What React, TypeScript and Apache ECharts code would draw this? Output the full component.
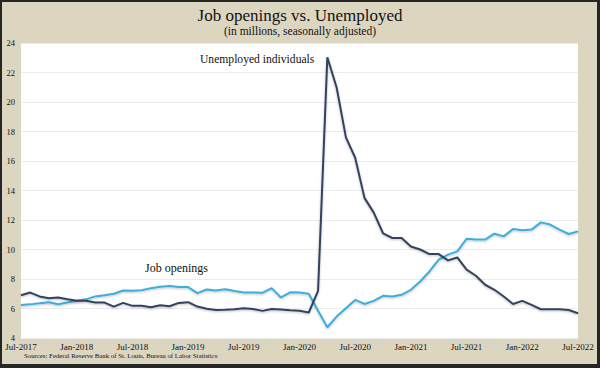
import React, { useEffect, useRef } from "react";
import * as echarts from "echarts";

const MONTHS = ["Jan", "Feb", "Mar", "Apr", "May", "Jun", "Jul", "Aug", "Sep", "Oct", "Nov", "Dec"];
const START_YEAR = 2017;
const START_MONTH = 6; // July
const N_POINTS = 61;
const CATEGORIES: string[] = [];
for (let i = 0; i < N_POINTS; i++) {
  const m = (START_MONTH + i) % 12;
  const y = START_YEAR + Math.floor((START_MONTH + i) / 12);
  CATEGORIES.push(`${MONTHS[m]}-${y}`);
}

const UNEMPLOYED = [
  6.9, 7.08, 6.82, 6.7, 6.75, 6.63, 6.52, 6.52, 6.4, 6.4,
  6.13, 6.38, 6.18, 6.18, 6.09, 6.22, 6.15, 6.38, 6.43, 6.13,
  5.98, 5.9, 5.92, 5.95, 6.02, 5.97, 5.84, 5.97, 5.93, 5.88,
  5.84, 5.73, 7.2, 23.03, 20.98, 17.6, 16.22, 13.5, 12.5, 11.1,
  10.78, 10.78, 10.2, 10.0, 9.69, 9.69, 9.26, 9.46, 8.63, 8.22,
  7.61, 7.27, 6.81, 6.31, 6.52, 6.24, 5.95, 5.95, 5.95, 5.9,
  5.68,
];

const JOB_OPENINGS = [
  6.24, 6.28, 6.35, 6.43, 6.29, 6.4, 6.53, 6.62, 6.82, 6.9,
  7.0, 7.22, 7.2, 7.24, 7.38, 7.47, 7.53, 7.45, 7.45, 7.04,
  7.29, 7.22, 7.31, 7.18, 7.08, 7.08, 7.06, 7.38, 6.75, 7.1,
  7.08, 7.0, 5.85, 4.73, 5.45, 6.02, 6.58, 6.31, 6.52, 6.86,
  6.81, 6.93, 7.27, 7.83, 8.51, 9.31, 9.65, 9.87, 10.73, 10.67,
  10.67, 11.07, 10.89, 11.39, 11.3, 11.35, 11.84, 11.69, 11.35, 11.05,
  11.23,
];

const Y_MIN = 4;
const Y_MAX = 24;
const Y_STEP = 2;

const TITLE = "Job openings vs. Unemployed";
const SUBTITLE = "(in millions, seasonally adjusted)";
const SOURCE = "Sources: Federal Reserve Bank of St. Louis, Bureau of Labor Statistics";
const LABEL_UNEMPLOYED = "Unemployed individuals";
const LABEL_JOBS = "Job openings";

const SERIF = "'Liberation Serif', 'DejaVu Serif', serif";
const BG = "#dcd6c1";
const FRAME = "#262626";
const DARK = "#34435e";
const LIGHT = "#3daedb";

export default function App() {
  const ref = useRef<HTMLDivElement>(null);

  useEffect(() => {
    if (!ref.current) return;
    const chart = echarts.init(ref.current, undefined, { renderer: "svg" });
    chart.setOption({
      animation: false,
      backgroundColor: BG,
      title: {
        text: TITLE,
        subtext: SUBTITLE,
        left: "center",
        top: 2,
        itemGap: 1,
        textStyle: { fontFamily: SERIF, fontSize: 17, fontWeight: "normal", color: "#111" },
        subtextStyle: { fontFamily: SERIF, fontSize: 11.5, color: "#111" },
      },
      grid: {
        left: 21,
        right: 22,
        top: 43,
        bottom: 30,
        show: true,
        backgroundColor: "#ffffff",
        borderWidth: 0,
      },
      xAxis: {
        type: "category",
        data: CATEGORIES,
        boundaryGap: false,
        axisLine: { show: false },
        axisTick: { show: false },
        splitLine: { show: false },
        axisLabel: {
          interval: 5,
          hideOverlap: false,
          showMinLabel: true,
          showMaxLabel: true,
          margin: 4,
          fontFamily: SERIF,
          fontSize: 9,
          fontWeight: "normal",
          color: "#111",
        },
      },
      yAxis: {
        type: "value",
        min: Y_MIN,
        max: Y_MAX,
        interval: Y_STEP,
        axisLine: { show: false },
        axisTick: { show: false },
        splitLine: { show: true, lineStyle: { color: "#ececec", width: 1 } },
        axisLabel: {
          margin: 6,
          fontFamily: SERIF,
          fontSize: 8.5,
          fontWeight: "normal",
          color: "#111",
        },
      },
      series: [
        {
          name: "Job openings",
          type: "line",
          data: JOB_OPENINGS,
          symbol: "none",
          smooth: false,
          lineStyle: {
            color: LIGHT,
            width: 2,
            shadowColor: "rgba(0,0,0,0.25)",
            shadowBlur: 2,
            shadowOffsetY: 1,
          },
          z: 3,
        },
        {
          name: "Unemployed individuals",
          type: "line",
          data: UNEMPLOYED,
          symbol: "none",
          smooth: false,
          lineStyle: {
            color: DARK,
            width: 2,
            shadowColor: "rgba(0,0,0,0.25)",
            shadowBlur: 2,
            shadowOffsetY: 1,
          },
          z: 4,
        },
      ],
      graphic: [
        {
          type: "text",
          left: 200,
          top: 53,
          style: { text: LABEL_UNEMPLOYED, fontFamily: SERIF, fontSize: 11.6, fill: "#111" },
        },
        {
          type: "text",
          left: 145,
          top: 262,
          style: { text: LABEL_JOBS, fontFamily: SERIF, fontSize: 12, fill: "#111" },
        },
        {
          type: "text",
          left: 24,
          top: 352,
          style: { text: SOURCE, fontFamily: SERIF, fontSize: 6.8, fill: "#111" },
        },
        { type: "rect", left: 0, top: 0, shape: { width: 600, height: 2 }, style: { fill: FRAME } },
        { type: "rect", left: 0, top: 0, shape: { width: 2, height: 368 }, style: { fill: FRAME } },
        { type: "rect", left: 597, top: 0, shape: { width: 3, height: 368 }, style: { fill: FRAME } },
        { type: "rect", left: 0, top: 364, shape: { width: 600, height: 4 }, style: { fill: FRAME } },
      ],
    });
    return () => chart.dispose();
  }, []);

  return (
    <div
      ref={ref}
      style={{ position: "absolute", left: 0, top: 0, width: 600, height: 368 }}
    />
  );
}
